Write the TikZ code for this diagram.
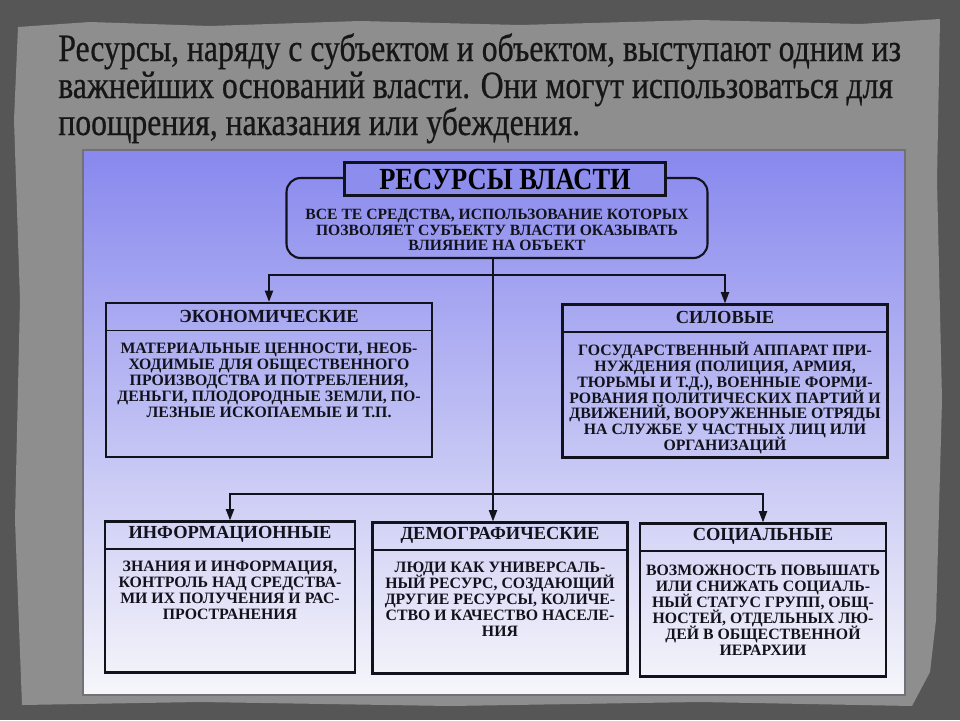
\documentclass[tikz,border=0pt]{standalone}
\usepackage{fontspec}
\setmainfont{Liberation Serif}
\newfontfamily\narrowserif[FakeStretch=0.86]{Liberation Serif}
\newfontfamily\titleserif[FakeStretch=0.82, FakeBold=0.6]{Liberation Serif}
\usetikzlibrary{arrows.meta, positioning, calc}
\definecolor{outergray}{RGB}{86,86,86}
\definecolor{papergray}{RGB}{142,142,142}
\definecolor{paneltop}{RGB}{136,136,238}
\definecolor{panelbot}{RGB}{246,246,250}
\definecolor{headfill}{RGB}{141,141,238}
\definecolor{inkdark}{RGB}{22,22,22}
\definecolor{boxline}{RGB}{18,18,28}
\newcommand{\tightlines}{\setlength{\lineskiplimit}{-100pt}}

\begin{document}
\begin{tikzpicture}[
    x=0.02cm, y=-0.02cm,
    % styles
    titleline/.style={anchor=base west, inner sep=0pt, text=inkdark, font=\titleserif\fontsize{22}{26}\selectfont},
    headbox/.style={draw=boxline, line width=1.2pt, fill=headfill, inner sep=0pt, font=\narrowserif\bfseries\fontsize{17.5}{18}\selectfont},
    defnbox/.style={draw=boxline, line width=1.2pt, rounded corners=8pt},
    defntext/.style={inner sep=0pt, align=center, text=boxline, font=\bfseries\fontsize{8.9}{8.8}\selectfont\tightlines},
    catbox/.style={draw=boxline, line width=1.2pt, inner sep=0pt},
    cathead/.style={anchor=north, inner sep=0pt, minimum height=0.56cm, text=boxline, font=\bfseries\fontsize{10.5}{11}\selectfont},
    catbody/.style={inner sep=0pt, align=center, text=boxline, font=\bfseries\fontsize{9}{9.1}\selectfont\tightlines},
    densebody/.style={catbody, font=\bfseries\fontsize{9}{8.95}\selectfont\tightlines},
    divider/.style={draw=boxline, line width=0.9pt},
    link/.style={draw=boxline, line width=1.1pt},
    arrow/.style={link, -{Triangle[length=6.5pt,width=4.6pt]}}
]
    \useasboundingbox (0,0) rectangle (960,720);

    % ============================================================
    % Background: slate, paper and panel
    % ============================================================
    \fill[outergray] (0,0) rectangle (960,720);
    \fill[papergray] (18,27) -- (90,22) -- (210,26) -- (360,21) -- (520,25) -- (700,20) -- (860,24) -- (940,19)
        -- (937,180) -- (942,400) -- (936,620) -- (930,672) -- (912,706) -- (700,702) -- (450,706) -- (200,702)
        -- (22,705) -- (15,520) -- (20,300) -- (14,120) -- cycle;

    \node[titleline] (t1) at (58,61) {Ресурсы, наряду с субъектом и объектом, выступают одним из};
    \node[titleline] (t2) at (58,98) {важнейших оснований власти. Они могут использоваться для};
    \node[titleline] (t3) at (58,135) {поощрения, наказания или убеждения.};

    \shade[top color=paneltop, bottom color=panelbot] (83,150) rectangle (905,695);
    \draw[boxline!60, line width=0.6pt] (83,150) rectangle (905,695);

    % ============================================================
    % Top: definition of power resources
    % ============================================================
    \node[defnbox, minimum width=8.42cm, minimum height=1.6cm] (defn) at (497,218) {};
    \node[headbox, minimum width=6.42cm, minimum height=0.66cm] (head) at (505,179) {РЕСУРСЫ ВЛАСТИ};
    \node[defntext] (defn-t) at (497,230) {ВСЕ ТЕ СРЕДСТВА, ИСПОЛЬЗОВАНИЕ КОТОРЫХ\\ПОЗВОЛЯЕТ СУБЪЕКТУ ВЛАСТИ ОКАЗЫВАТЬ\\ВЛИЯНИЕ НА ОБЪЕКТ};

    \coordinate (bus1) at (493,275);
    \coordinate (bus2) at (493,494);

    % ============================================================
    % Row 1: economic and force resources
    % ============================================================
    \node[catbox, minimum width=6.52cm, minimum height=3.08cm] (econ) at (269,380) {};
    \node[cathead] (econ-h) at (econ.north) {ЭКОНОМИЧЕСКИЕ};
    \draw[divider] (econ.west |- econ-h.south) -- (econ.east |- econ-h.south);
    \node[catbody, below=0.25cm of econ-h] (econ-b) {МАТЕРИАЛЬНЫЕ ЦЕННОСТИ, НЕОБ-\\ХОДИМЫЕ ДЛЯ ОБЩЕСТВЕННОГО\\ПРОИЗВОДСТВА И ПОТРЕБЛЕНИЯ,\\ДЕНЬГИ, ПЛОДОРОДНЫЕ ЗЕМЛИ, ПО-\\ЛЕЗНЫЕ ИСКОПАЕМЫЕ И Т.П.};

    \node[catbox, minimum width=6.5cm, minimum height=3.06cm] (force) at (725,381) {};
    \node[cathead] (force-h) at (force.north) {СИЛОВЫЕ};
    \draw[divider] (force.west |- force-h.south) -- (force.east |- force-h.south);
    \node[densebody, below=0.2cm of force-h] (force-b) {ГОСУДАРСТВЕННЫЙ АППАРАТ ПРИ-\\НУЖДЕНИЯ (ПОЛИЦИЯ, АРМИЯ,\\ТЮРЬМЫ И Т.Д.), ВОЕННЫЕ ФОРМИ-\\РОВАНИЯ ПОЛИТИЧЕСКИХ ПАРТИЙ И\\ДВИЖЕНИЙ, ВООРУЖЕННЫЕ ОТРЯДЫ\\НА СЛУЖБЕ У ЧАСТНЫХ ЛИЦ ИЛИ\\ОРГАНИЗАЦИЙ};

    % ============================================================
    % Row 2: information, demography, social
    % ============================================================
    \node[catbox, minimum width=5.0cm, minimum height=3.02cm] (info) at (230,597) {};
    \node[cathead] (info-h) at (info.north) {ИНФОРМАЦИОННЫЕ};
    \draw[divider] (info.west |- info-h.south) -- (info.east |- info-h.south);
    \node[catbody, below=0.24cm of info-h] (info-b) {ЗНАНИЯ И ИНФОРМАЦИЯ,\\КОНТРОЛЬ НАД СРЕДСТВА-\\МИ ИХ ПОЛУЧЕНИЯ И РАС-\\ПРОСТРАНЕНИЯ};

    \node[catbox, minimum width=5.1cm, minimum height=3.02cm] (demog) at (500,598) {};
    \node[cathead] (demog-h) at (demog.north) {ДЕМОГРАФИЧЕСКИЕ};
    \draw[divider] (demog.west |- demog-h.south) -- (demog.east |- demog-h.south);
    \node[catbody, below=0.24cm of demog-h] (demog-b) {ЛЮДИ КАК УНИВЕРСАЛЬ-\\НЫЙ РЕСУРС, СОЗДАЮЩИЙ\\ДРУГИЕ РЕСУРСЫ, КОЛИЧЕ-\\СТВО И КАЧЕСТВО НАСЕЛЕ-\\НИЯ};

    \node[catbox, minimum width=4.92cm, minimum height=3.06cm] (social) at (763,600) {};
    \node[cathead] (social-h) at (social.north) {СОЦИАЛЬНЫЕ};
    \draw[divider] (social.west |- social-h.south) -- (social.east |- social-h.south);
    \node[catbody, below=0.28cm of social-h] (social-b) {ВОЗМОЖНОСТЬ ПОВЫШАТЬ\\ИЛИ СНИЖАТЬ СОЦИАЛЬ-\\НЫЙ СТАТУС ГРУПП, ОБЩ-\\НОСТЕЙ, ОТДЕЛЬНЫХ ЛЮ-\\ДЕЙ В ОБЩЕСТВЕННОЙ\\ИЕРАРХИИ};

    % ============================================================
    % Connections
    % ============================================================
    \draw[link] (defn.south -| bus1) -- (bus2);
    \draw[arrow] (bus1) -| (econ);
    \draw[arrow] (bus1) -| (force);
    \draw[arrow] (bus2) -| (info);
    \draw[arrow] (bus2) -- (bus2 |- demog.north);
    \draw[arrow] (bus2) -| (social);

\end{tikzpicture}
\end{document}
